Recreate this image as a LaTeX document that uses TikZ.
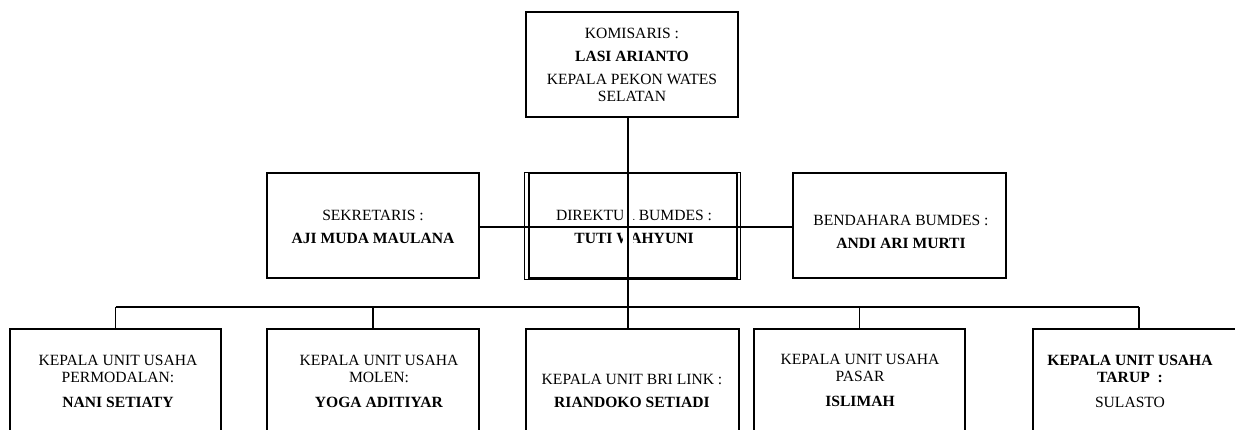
\documentclass[tikz,border=0pt]{standalone}
\usepackage{fontspec}
\setmainfont{Liberation Serif}
\begin{document}
\begin{tikzpicture}[x=1pt,y=-1pt,
  box/.style={draw,line width=2pt,inner sep=0pt},
  conn/.style={line width=1.4pt},
  trunk/.style={line width=2.8pt},
  txt/.style={align=center,font=\fontsize{15.6}{17}\selectfont,inner sep=0pt}]
\useasboundingbox (0,0) rectangle (1235,429);
\clip (0,0) rectangle (1235,429);
% boxes
\node[box,minimum width=212pt,minimum height=105pt] (kom) at (632,64.5) {};
\node[box,minimum width=212pt,minimum height=105pt] (sek) at (373,225.5) {};
\node[box,minimum width=208pt,minimum height=105pt] (dir) at (632.5,225.5) {};
\draw[line width=0.8pt] ([xshift=-3pt]dir.north west) rectangle ([xshift=3pt]dir.south east);
\node[box,minimum width=213pt,minimum height=105pt] (ben) at (899.5,225.5) {};
\node[box,minimum width=211pt,minimum height=111pt] (u1) at (115.5,384.5) {};
\node[box,minimum width=212pt,minimum height=111pt] (u2) at (373,384.5) {};
\node[box,minimum width=213pt,minimum height=111pt] (u3) at (632.5,384.5) {};
\node[box,minimum width=211pt,minimum height=111pt] (u4) at (859.5,384.5) {};
\node[box,minimum width=212pt,minimum height=111pt] (u5) at (1139,384.5) {};
% texts
\node[txt] (tkom) at (632,65) {KOMISARIS :\\[6pt]\textbf{LASI ARIANTO}\\[6pt]KEPALA PEKON WATES\\SELATAN};
\node[txt] (tsek) at (373,226.5) {SEKRETARIS :\\[6pt]\textbf{AJI MUDA MAULANA}};
\node[txt] (tdir) at (634,226.5) {DIREKTUR BUMDES :\\[6pt]\textbf{TUTI WAHYUNI}};
\node[txt] (tben) at (901,231.5) {BENDAHARA BUMDES :\\[6pt]\textbf{ANDI ARI MURTI}};
\node[txt] (tu1) at (118,381.5) {KEPALA UNIT USAHA\\PERMODALAN:\\[8pt]\textbf{NANI SETIATY}};
\node[txt] (tu2) at (379,381.5) {KEPALA UNIT USAHA\\MOLEN:\\[8pt]\textbf{YOGA ADITIYAR}};
\node[txt] (tu3) at (632,391) {KEPALA UNIT BRI LINK :\\[6pt]\textbf{RIANDOKO SETIADI}};
\node[txt] (tu4) at (860,380.5) {KEPALA UNIT USAHA\\PASAR\\[8pt]\textbf{ISLIMAH}};
\node[txt] (tu5) at (1130,381.5) {\textbf{KEPALA UNIT USAHA}\\\textbf{TARUP\ \ :}\\[8pt]SULASTO};
% connectors
\coordinate (t) at (628,0);
\coordinate (hl) at (0,227);
\coordinate (bus) at (0,307);
\fill[white] ([xshift=-5pt,yshift=-3pt]dir.north -| t) rectangle ([xshift=5pt,yshift=3pt]dir.south -| t);
\draw[conn] (sek.east |- hl) -- (ben.west |- hl);
\draw[trunk] (kom.south -| t) -- (u3.north -| t);
\draw[conn] (u1.north |- bus) -- (u5.north |- bus);
\draw[conn] (u1.north |- bus) -- (u1.north);
\draw[conn] (u2.north |- bus) -- (u2.north);
\draw[conn] (u4.north |- bus) -- (u4.north);
\draw[conn] (u5.north |- bus) -- (u5.north);
\end{tikzpicture}
\end{document}
